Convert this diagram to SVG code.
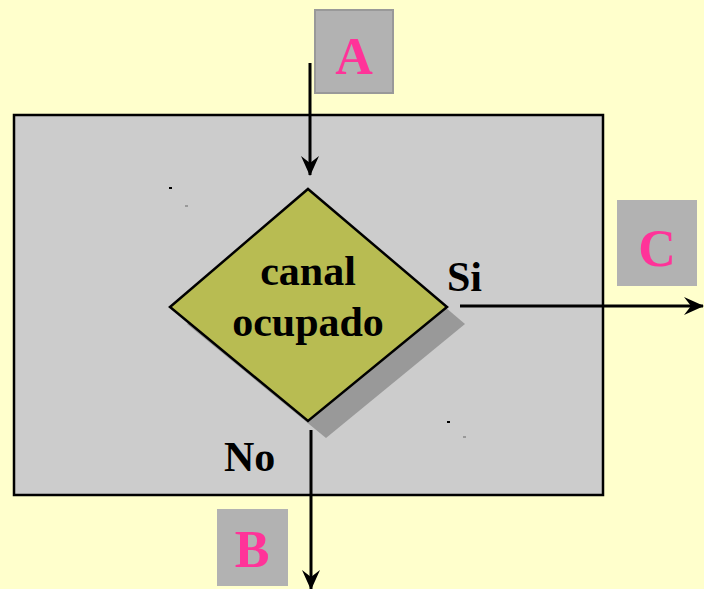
<svg xmlns="http://www.w3.org/2000/svg" width="704" height="589" viewBox="0 0 704 589">
<defs>
<style>
.lbl{font-family:"Liberation Serif","Times New Roman",serif;font-weight:bold;}
.pink{fill:#FF3399;font-size:52px;text-anchor:middle;}
.blk{fill:#000;font-size:42px;}
.box{fill:#B2B2B2;}
.conn{stroke:#000;stroke-width:3;fill:none;}
</style>
<marker id="arr" viewBox="0 0 20 24" refX="19" refY="12" markerWidth="20" markerHeight="24" markerUnits="userSpaceOnUse" orient="auto">
<path d="M0,3 L20,12 L0,21 L7,12 Z" fill="#000"/>
</marker>
</defs>
<rect width="704" height="589" fill="#FFFFCC"/>
<g id="frame">
<rect x="14" y="115" width="589" height="380" fill="#CCCCCC" stroke="#000" stroke-width="2.5"/>
<rect x="169" y="187" width="3" height="2" fill="#000"/>
<rect x="185" y="205" width="3" height="2" fill="#999"/>
<rect x="447" y="421" width="3" height="2" fill="#000"/>
<rect x="463" y="436" width="3" height="2" fill="#999"/>
</g>
<g id="connectors">
<line class="conn" x1="310" y1="63" x2="310" y2="175" marker-end="url(#arr)"/>
<line class="conn" x1="460" y1="306" x2="703" y2="306" marker-end="url(#arr)"/>
<line class="conn" x1="311" y1="430" x2="311" y2="589" marker-end="url(#arr)"/>
</g>
<g id="nodeA">
<rect class="box" x="315" y="10" width="78" height="83" stroke="#999" stroke-width="2"/>
<text class="lbl pink" x="354" y="74">A</text>
</g>
<g id="decision">
<polygon points="326,206 465,324 326,438 187,324" fill="#999999"/>
<polygon points="308,189 447,307 308,421 170,307" fill="#B8BC52" stroke="#000" stroke-width="2.5"/>
<text class="lbl blk" x="308" y="285" text-anchor="middle">canal</text>
<text class="lbl blk" x="308" y="336" text-anchor="middle">ocupado</text>
</g>
<g id="labelSi"><text class="lbl blk" x="447" y="291">Si</text></g>
<g id="labelNo"><text class="lbl blk" x="224" y="471">No</text></g>
<g id="nodeC">
<rect class="box" x="617" y="200" width="80" height="86"/>
<text class="lbl pink" x="657" y="266">C</text>
</g>
<g id="nodeB">
<rect class="box" x="217" y="509" width="71" height="77"/>
<text class="lbl pink" x="252" y="567">B</text>
</g>
</svg>
